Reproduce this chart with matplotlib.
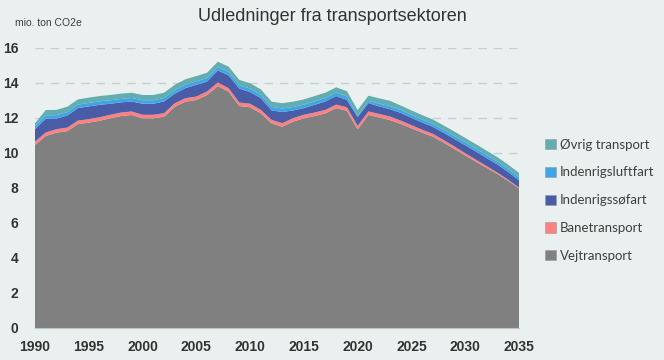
import matplotlib
matplotlib.use("Agg")
import matplotlib.pyplot as plt
from matplotlib.patches import Patch

# Data (mio. ton CO2e)
years = list(range(1990, 2036))

vejtransport = [10.44, 10.96, 11.15, 11.24, 11.64, 11.72, 11.83, 11.97, 12.10, 12.16,
                11.97, 11.97, 12.06, 12.63, 12.92, 13.01, 13.30, 13.81, 13.49, 12.67,
                12.60, 12.25, 11.68, 11.49, 11.78, 11.97, 12.10, 12.25, 12.55, 12.40,
                11.34, 12.16, 12.02, 11.87, 11.65, 11.40, 11.15, 10.92, 10.58, 10.22,
                9.85, 9.49, 9.14, 8.79, 8.40, 7.97]

banetransport = [0.20] * 34 + [0.19, 0.18, 0.17, 0.16, 0.15, 0.14,
                               0.13, 0.12, 0.10, 0.08, 0.06, 0.05]

indenrigssoefart = [0.71, 0.78, 0.60, 0.69, 0.71, 0.73, 0.71, 0.63, 0.58, 0.57,
                    0.63, 0.63, 0.67, 0.55, 0.58, 0.67, 0.57, 0.69, 0.73, 0.79,
                    0.67, 0.67, 0.54, 0.64, 0.44, 0.38, 0.44, 0.48, 0.49, 0.42,
                    0.50, 0.48, 0.43, 0.42, 0.44, 0.42, 0.41, 0.40, 0.41, 0.43,
                    0.45, 0.46, 0.46, 0.46, 0.44, 0.42]

indenrigsluftfart = [0.18] + [0.20] * 29 + [0.10, 0.12, 0.16, 0.18] + [0.17] * 12

oevrig_transport = [0.15] + [0.30] * 33 + [0.25] * 12

labels = ["Vejtransport", "Banetransport", "Indenrigssøfart",
          "Indenrigsluftfart", "Øvrig transport"]
colors = ["#808080", "#FF8080", "#4A5CA5", "#3EA6E8", "#62ADAF"]

bg = "#EAF0EF"

fig = plt.figure(figsize=(6.64, 3.60), dpi=100, facecolor=bg)
ax = fig.add_axes([0.0527, 0.0889, 0.7289, 0.7786], facecolor=bg)

ax.stackplot(years, vejtransport, banetransport, indenrigssoefart,
             indenrigsluftfart, oevrig_transport, colors=colors, linewidth=0,
             zorder=3)

ax.set_xlim(1990, 2035)
ax.set_ylim(0, 16)
ax.set_xticks(range(1990, 2036, 5))
ax.set_yticks(range(0, 17, 2))
ax.yaxis.grid(True, linestyle=(0, (6, 5)), color="#C9CDCD", linewidth=1, zorder=0)
ax.set_axisbelow(True)

for s in ["top", "right", "left"]:
    ax.spines[s].set_visible(False)
ax.spines["bottom"].set_color("#C0C4C4")
ax.spines["bottom"].set_zorder(4)

ax.tick_params(axis="both", length=0, labelcolor="#333333")
ax.tick_params(axis="y", pad=12)
ax.tick_params(axis="x", pad=9)
for lab in ax.get_xticklabels() + ax.get_yticklabels():
    lab.set_fontfamily("Liberation Sans")
    lab.set_fontweight("bold")
    lab.set_fontsize(10)

fig.text(0.5, 0.955, "Udledninger fra transportsektoren", ha="center", va="center",
         fontsize=13, family="Liberation Sans", color="#333333")
fig.text(0.022, 0.935, "mio. ton CO2e", ha="left", va="center",
         fontsize=7.5, family="Liberation Sans", color="#404040")

# legend, top entry is the top layer
handles = [Patch(facecolor=c, edgecolor="#999999", linewidth=0.4) for c in colors]
leg = fig.legend(handles[::-1], labels[::-1], loc="upper left",
                 bbox_to_anchor=(0.803, 0.648), frameon=False,
                 prop={"family": "Lato", "size": 9.5},
                 handlelength=0.8, handleheight=0.8, handletextpad=0.3,
                 labelspacing=1.2, labelcolor="#404040")

fig.savefig("out.png", dpi=100, facecolor=bg)
